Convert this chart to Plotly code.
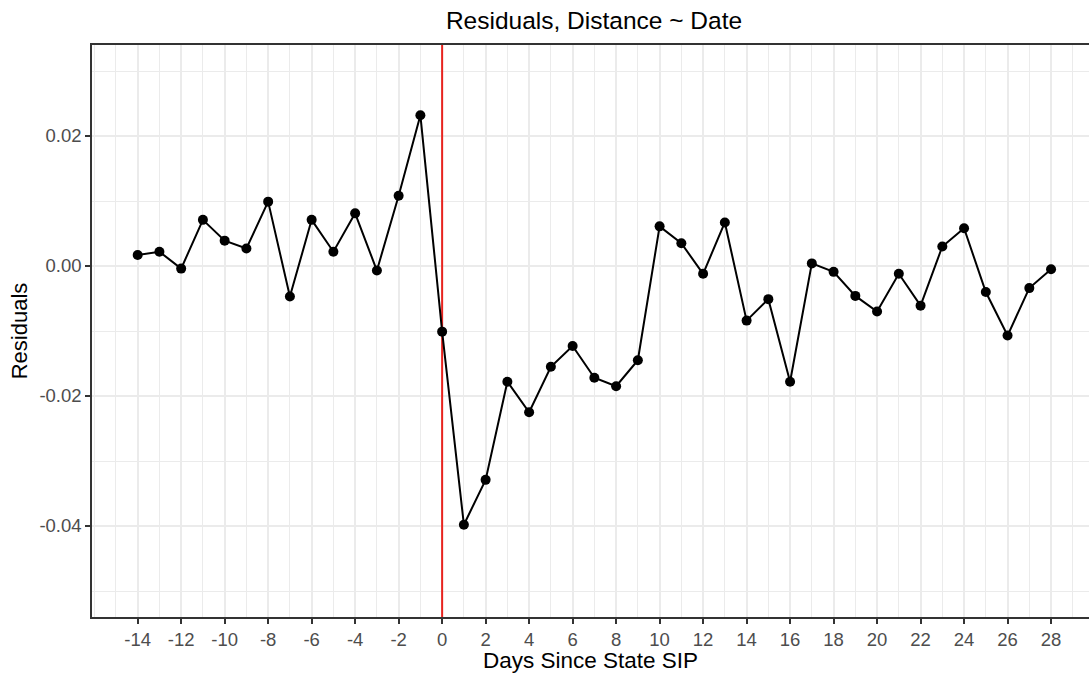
import plotly.graph_objects as go

days = list(range(-14, 29))
residuals = [0.0017, 0.0022, -0.0004, 0.0071, 0.0039, 0.0027, 0.0099, -0.0047,
             0.0071, 0.0022, 0.0081, -0.0007, 0.0108, 0.0232,
             -0.0101, -0.0398, -0.0329, -0.0178, -0.0225, -0.0155, -0.0123,
             -0.0172, -0.0185, -0.0145, 0.0061, 0.0035, -0.0012, 0.0067,
             -0.0084, -0.0051, -0.0178, 0.0004, -0.0009, -0.0046, -0.0070,
             -0.0012, -0.0061, 0.0030, 0.0058, -0.0040, -0.0107, -0.0034, -0.0005]
sip_day = 0
x_ticks = list(range(-14, 29, 2))
y_ticks = [0.02, 0.0, -0.02, -0.04]
y_tick_text = ["0.02", "0.00", "-0.02", "-0.04"]
x_range = [-16.1, 29.745]
y_range = [-0.054, 0.034]

FONT = "Liberation Sans, Arial, Helvetica, sans-serif"

fig = go.Figure()
# vertical reference line at the SIP day, spanning the whole panel
fig.add_trace(go.Scatter(
    x=[sip_day, sip_day], y=y_range, mode="lines",
    line=dict(color="#E8231E", width=2), showlegend=False, hoverinfo="skip",
))
fig.add_trace(go.Scatter(
    x=days, y=residuals, mode="lines+markers",
    line=dict(color="black", width=2),
    marker=dict(color="black", size=10),
    showlegend=False, cliponaxis=False,
))

W, H = 1089, 673
fig.update_layout(
    width=W, height=H,
    margin=dict(l=92, r=0, t=45, b=56, pad=0),
    paper_bgcolor="white", plot_bgcolor="white",
    font=dict(family=FONT, color="#4D4D4D"),
    title=dict(text="Residuals, Distance ~ Date", x=594 / W, xref="container",
               xanchor="center", y=1 - 20 / H, yref="container", yanchor="middle",
               font=dict(size=24.5, color="black", family=FONT)),
)
fig.update_xaxes(
    range=x_range,
    tickmode="array", tickvals=x_ticks, ticktext=[str(t) for t in x_ticks],
    ticks="outside", ticklen=5, tickwidth=1.5, tickcolor="#333333",
    tickfont=dict(size=18.5, color="#4D4D4D", family=FONT),
    showgrid=True, gridcolor="#EBEBEB", gridwidth=1.5,
    minor=dict(dtick=1, tick0=0, showgrid=True, gridcolor="#EBEBEB", gridwidth=1, ticks=""),
    showline=True, linecolor="#333333", linewidth=1.5, mirror=True,
    zeroline=False,
    title=dict(text="Days Since State SIP", font=dict(size=22.5, color="black", family=FONT), standoff=5),
)
fig.update_yaxes(
    range=y_range,
    tickmode="array", tickvals=y_ticks, ticktext=y_tick_text,
    ticks="outside", ticklen=5, tickwidth=1.5, tickcolor="#333333",
    tickfont=dict(size=18.5, color="#4D4D4D", family=FONT),
    showgrid=True, gridcolor="#EBEBEB", gridwidth=1.5,
    minor=dict(dtick=0.01, tick0=0, showgrid=True, gridcolor="#EBEBEB", gridwidth=1, ticks=""),
    showline=True, linecolor="#333333", linewidth=1.5, mirror=False,
    zeroline=False,
    title=dict(text="Residuals", font=dict(size=22, color="black", family=FONT), standoff=6),
)

fig.write_html("out.html")
